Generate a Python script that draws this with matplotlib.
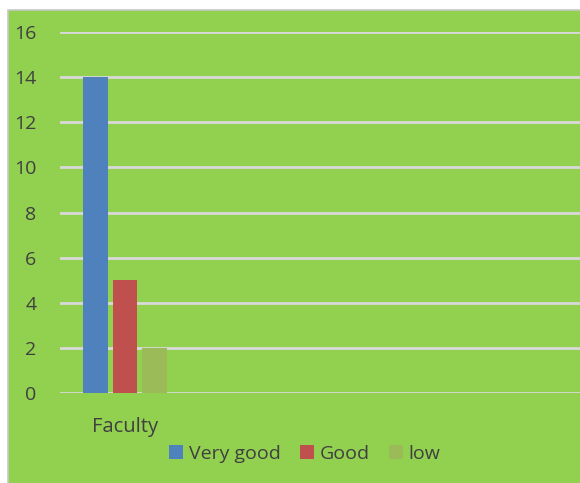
import numpy as np
import matplotlib.pyplot as plt
from matplotlib.patches import Rectangle

# ---------------------- DATA ----------------------
categories = ["Faculty", "", "", ""]
very_good = [14, np.nan, np.nan, np.nan]
good = [5, np.nan, np.nan, np.nan]
low = [2, np.nan, np.nan, np.nan]
series_names = ["Very good", "Good", "low"]
series_colors = ["#4F81BD", "#C0504D", "#9BBB59"]
y_ticks = [0, 2, 4, 6, 8, 10, 12, 14, 16]

plt.rcParams['font.family'] = ['Open Sans', 'DejaVu Sans']
text_color = "#404040"
bg = "#92D050"

fig = plt.figure(figsize=(5.8, 4.83), dpi=100)
fig.patch.set_facecolor("white")

# green chart area with thin gray border
fig.patches.append(Rectangle((8 / 580, -0.01), 1, 1.01 - 10 / 483, transform=fig.transFigure,
                             facecolor=bg, edgecolor="#C8C8C8", linewidth=1.2, zorder=-5))

ax = fig.add_axes([60 / 580, 1 - 393 / 483, 520 / 580, 361 / 483])
ax.set_facecolor("none")

x = np.arange(len(categories))
width = 0.185
step = 0.227
for i, (vals, name, col) in enumerate(zip([very_good, good, low], series_names, series_colors)):
    ax.bar(x + (i - 1) * step, vals, width=width, color=col, label=name, zorder=3)

ax.set_xlim(-0.5, len(categories) - 0.5)
ax.set_ylim(0, 16)
ax.set_yticks(y_ticks)
ax.set_yticklabels([str(t) for t in y_ticks])
ax.set_xticks(x)
ax.set_xticklabels(categories)
ax.grid(axis="y", color="#D9D9D9", linewidth=2, zorder=1)
ax.set_axisbelow(True)
for s in ax.spines.values():
    s.set_visible(False)
ax.tick_params(axis="y", length=0, pad=17, labelsize=14, labelcolor=text_color)
ax.tick_params(axis="x", length=0, pad=17, labelsize=14.5, labelcolor=text_color)

leg = fig.legend(loc="center", bbox_to_anchor=(305 / 580, 1 - 454 / 483), ncol=3,
                 frameon=False, fontsize=14, labelcolor=text_color,
                 handlelength=0.7, handleheight=0.7, handletextpad=0.3, columnspacing=1.0)

fig.savefig("out.png", dpi=100, facecolor=fig.get_facecolor())
